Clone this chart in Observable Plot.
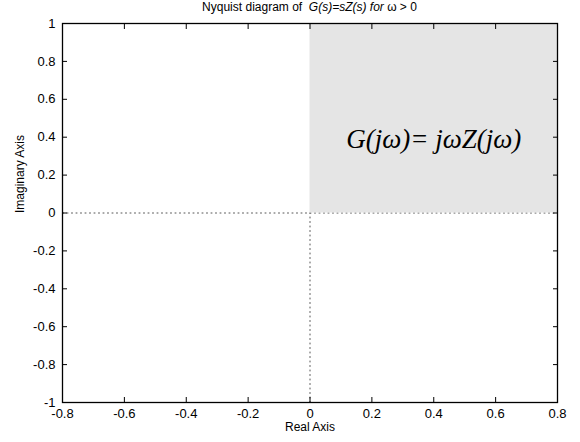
<!DOCTYPE html>
<html>
<head>
<meta charset="utf-8">
<script src="https://cdn.jsdelivr.net/npm/d3@7"></script>
<script src="https://cdn.jsdelivr.net/npm/@observablehq/plot@0.6"></script>
<style>
  body { margin: 0; background: #fff; }
  #wrap { position: relative; width: 580px; height: 442px; font-family: "Liberation Sans", Arial, sans-serif; }
  #title { position: absolute; top: 0px; left: 62px; width: 495px; text-align: center; font-size: 12px; line-height: 14px; color: #000; }
  #title i { font-style: italic; }
</style>
</head>
<body>
<div id="wrap">
  <div id="title">Nyquist diagram of&nbsp;&nbsp;<i>G(s)=sZ(s) for</i> ω &gt; 0</div>
</div>
<script>
const xDomain = [-0.8, 0.8];
const yDomain = [-1, 1];
const xTicks = [-0.8, -0.6, -0.4, -0.2, 0, 0.2, 0.4, 0.6, 0.8];
const yTicks = [-1, -0.8, -0.6, -0.4, -0.2, 0, 0.2, 0.4, 0.6, 0.8, 1];
const regionX = [0, 0.8];
const regionY = [0, 1];
const realAxisLine = [[-0.8, 0], [0.8, 0]];
const imagAxisLine = [[0, -1], [0, 0]];
const annotation = ["G(jω)= jωZ(jω)"];
const annotationPos = [0.4, 0.39];

const fmt = d => String(d);
const tk = 5;

const chart = Plot.plot({
  width: 580,
  height: 442,
  marginLeft: 62,
  marginRight: 23,
  marginTop: 23,
  marginBottom: 40,
  style: { fontFamily: "Liberation Sans, Arial, sans-serif", fontSize: "13px", color: "#000", background: "transparent", overflow: "visible" },
  x: { domain: xDomain, ticks: xTicks, tickFormat: fmt },
  y: { domain: yDomain, ticks: yTicks, tickFormat: fmt },
  marks: [
    Plot.line(realAxisLine, { x: d => d[0], y: d => d[1], stroke: "#555", strokeWidth: 1, strokeDasharray: "1,3.5" }),
    Plot.line(imagAxisLine, { x: d => d[0], y: d => d[1], stroke: "#555", strokeWidth: 1, strokeDasharray: "1,3.5" }),
    Plot.rect([0], { x1: regionX[0], x2: regionX[1], y1: regionY[0], y2: regionY[1], fill: "#e5e5e5" }),
    Plot.text(annotation, { x: annotationPos[0], y: annotationPos[1], text: d => d, fontFamily: "Liberation Serif, Times New Roman, serif", fontStyle: "italic", fontSize: 27, fill: "#000" }),
    Plot.axisX(xTicks, { anchor: "bottom", tickSize: 0, tickPadding: 6, tickFormat: fmt, label: null, fontSize: 13 }),
    Plot.axisY(yTicks, { anchor: "left", tickSize: 0, tickPadding: 7, tickFormat: fmt, label: null, fontSize: 13 }),
    Plot.axisX(xTicks, { anchor: "bottom", tickSize: tk, dy: -tk, text: null, label: null, stroke: "#000" }),
    Plot.axisX(xTicks, { anchor: "top", tickSize: tk, dy: tk, text: null, label: null, stroke: "#000" }),
    Plot.axisY(yTicks, { anchor: "left", tickSize: tk, dx: tk, text: null, label: null, stroke: "#000" }),
    Plot.axisY(yTicks, { anchor: "right", tickSize: tk, dx: -tk, text: null, label: null, stroke: "#000" }),
    Plot.frame({ stroke: "#000", strokeWidth: 1.3 }),
    Plot.text(["Real Axis"], { frameAnchor: "bottom", dy: 28, text: d => d, fontSize: 12 }),
    Plot.text(["Imaginary Axis"], { frameAnchor: "left", dx: -42, rotate: -90, text: d => d, fontSize: 12 })
  ]
});
chart.style.position = "absolute";
chart.style.left = "0";
chart.style.top = "0";
document.getElementById("wrap").appendChild(chart);
</script>
</body>
</html>
